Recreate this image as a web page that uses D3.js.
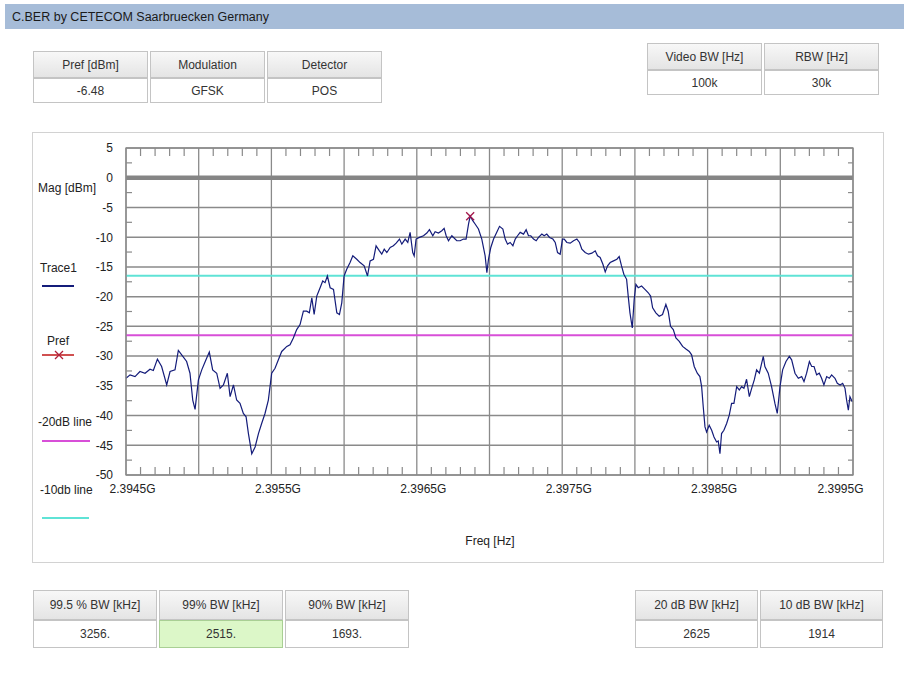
<!DOCTYPE html>
<html><head><meta charset="utf-8">
<script src="https://cdn.jsdelivr.net/npm/d3@7"></script>
<style>
body{margin:0;background:#fff;}
svg text{font-family:"Liberation Sans",Arial,sans-serif;}
</style></head><body>
<svg id="c" width="904" height="674"></svg>
<script>
// ---------------- data ----------------
const titleText = "C.BER by CETECOM Saarbruecken Germany";
const topLeftHeaders = ["Pref [dBm]", "Modulation", "Detector"];
const topLeftValues = ["-6.48", "GFSK", "POS"];
const topRightHeaders = ["Video BW [Hz]", "RBW [Hz]"];
const topRightValues = ["100k", "30k"];
const bwLeftHeaders = ["99.5 % BW [kHz]", "99% BW [kHz]", "90% BW [kHz]"];
const bwLeftValues = ["3256.", "2515.", "1693."];
const bwRightHeaders = ["20 dB BW [kHz]", "10 dB BW [kHz]"];
const bwRightValues = ["2625", "1914"];
const prefDbm = -6.48;
const prefFreqMHz = 2396.867;
const line20dB = -26.48;
const line10dB = -16.48;
const yTickValues = [5, 0, -5, -10, -15, -20, -25, -30, -35, -40, -45, -50];
const xTickValuesMHz = [2394.5, 2395.5, 2396.5, 2397.5, 2398.5, 2399.5];
const xTickLabels = ["2.3945G", "2.3955G", "2.3965G", "2.3975G", "2.3985G", "2.3995G"];
const yAxisTitle = "Mag [dBm]";
const xAxisTitle = "Freq [Hz]";
const legendLabels = ["Trace1", "Pref", "-20dB line", "-10db line"];

const traceFreqMHz = [
2394.500,2394.528,2394.562,2394.596,2394.631,2394.665,2394.688,2394.716,2394.745,2394.780,
2394.803,2394.837,2394.860,2394.883,2394.917,2394.940,2394.959,2394.975,2394.998,2395.021,
2395.050,2395.073,2395.096,2395.124,2395.147,2395.170,2395.197,2395.216,2395.239,2395.261,
2395.284,2395.307,2395.326,2395.342,2395.365,2395.388,2395.411,2395.433,2395.456,2395.479,
2395.502,2395.525,2395.548,2395.571,2395.606,2395.628,2395.651,2395.674,2395.697,2395.720,
2395.743,2395.761,2395.778,2395.794,2395.812,2395.835,2395.853,2395.869,2395.885,2395.904,
2395.927,2395.950,2395.968,2395.984,2396.000,2396.018,2396.041,2396.060,2396.087,2396.110,
2396.138,2396.161,2396.179,2396.202,2396.220,
2396.243,2396.259,2396.276,2396.294,2396.317,2396.339,2396.358,2396.381,2396.397,2396.420,
2396.438,2396.454,2396.472,2396.482,2396.495,2396.518,2396.546,2396.569,2396.587,2396.610,
2396.626,2396.649,2396.672,2396.688,2396.702,2396.718,2396.741,2396.775,2396.798,2396.821,
2396.839,2396.856,2396.867,2396.885,2396.901,2396.924,2396.947,2396.970,2396.982,2396.993,
2397.009,2397.028,2397.050,2397.069,2397.092,2397.108,2397.124,2397.142,2397.161,2397.177,
2397.193,2397.211,2397.234,2397.252,2397.268,2397.284,2397.303,2397.321,2397.337,2397.360,
2397.376,2397.394,2397.413,2397.436,2397.452,2397.468,2397.486,2397.502,2397.514,2397.532,
2397.555,2397.578,2397.601,2397.619,2397.635,2397.658,2397.681,2397.704,2397.727,2397.743,
2397.761,2397.780,2397.796,2397.812,2397.830,2397.853,2397.876,
2397.892,2397.908,2397.924,2397.943,2397.954,2397.966,2397.982,2397.995,2398.007,2398.023,
2398.046,2398.069,2398.092,2398.108,2398.122,2398.144,2398.167,2398.190,2398.213,2398.229,
2398.245,2398.264,2398.282,2398.305,2398.328,2398.351,2398.374,2398.390,2398.408,2398.429,
2398.447,2398.459,2398.470,2398.482,2398.493,2398.511,2398.528,2398.544,2398.562,2398.573,
2398.585,2398.596,2398.612,2398.631,2398.649,2398.665,2398.681,2398.700,2398.718,2398.734,
2398.750,2398.768,2398.787,2398.803,2398.821,2398.837,2398.856,2398.872,2398.883,2398.894,
2398.917,2398.940,2398.963,2398.979,2398.998,2399.016,2399.039,2399.062,2399.078,2399.101,
2399.124,2399.147,2399.163,2399.181,2399.200,2399.216,2399.232,2399.250,2399.268,2399.284,
2399.300,2399.319,2399.337,2399.353,2399.376,2399.392,2399.411,2399.429,2399.445,2399.456,
2399.468,2399.479,2399.495
];
const traceMagDbm = [
-33.73,-33.16,-33.45,-32.60,-32.88,-32.21,-32.43,-30.51,-31.75,-34.86,
-32.60,-32.32,-29.05,-29.78,-30.91,-32.88,-37.39,-38.97,-34.01,-32.32,
-30.63,-29.33,-32.32,-32.88,-35.42,-34.86,-32.88,-36.83,-34.86,-37.39,
-37.96,-39.65,-40.21,-43.03,-46.42,-45.29,-43.03,-41.34,-39.65,-37.39,
-32.88,-32.04,-30.63,-29.22,-28.37,-28.09,-26.96,-25.55,-24.70,-22.45,
-22.45,-22.73,-20.19,-23.01,-19.91,-18.50,-17.37,-17.65,-16.53,-18.50,
-18.78,-22.73,-23.01,-21.04,-16.53,-15.40,-14.27,-13.14,-13.71,-14.27,
-14.83,-16.53,-13.99,-13.71,-11.45,
-12.30,-12.86,-12.01,-12.58,-11.73,-11.45,-11.00,-10.32,-11.17,-10.32,
-10.89,-9.19,-12.58,-13.14,-10.32,-10.04,-9.76,-9.31,-8.74,-9.76,
-9.08,-9.31,-8.91,-8.52,-9.76,-10.60,-9.76,-10.60,-10.60,-10.32,
-10.32,-7.78,-6.48,-7.22,-7.78,-8.63,-10.32,-13.14,-15.96,-13.71,
-11.73,-10.32,-9.19,-8.18,-8.63,-10.32,-11.17,-10.89,-11.45,-10.32,
-9.76,-9.19,-9.48,-8.74,-9.76,-9.76,-10.32,-10.60,-10.04,-9.48,
-9.76,-9.48,-10.04,-10.32,-10.89,-12.58,-12.86,-10.32,-10.32,-10.89,
-11.00,-10.60,-10.32,-10.89,-12.01,-12.58,-12.86,-12.69,-12.30,-13.14,
-13.42,-14.55,-15.85,-14.83,-14.27,-13.99,-13.71,
-13.25,-14.83,-16.24,-17.09,-19.91,-22.73,-25.27,-20.47,-17.94,-18.50,
-18.22,-18.78,-19.35,-19.91,-21.88,-22.73,-23.29,-23.01,-21.32,-22.45,
-24.99,-25.55,-26.96,-27.52,-28.37,-28.82,-29.22,-29.78,-31.75,-32.88,
-33.45,-35.14,-38.52,-41.91,-42.75,-41.62,-42.47,-43.60,-44.44,-44.28,
-46.42,-43.03,-42.47,-41.34,-39.93,-37.96,-37.96,-35.14,-35.70,-35.14,
-35.42,-33.90,-36.83,-35.42,-34.01,-32.32,-32.88,-31.19,-30.06,-31.75,
-32.88,-35.14,-37.96,-39.65,-35.14,-32.32,-30.91,-30.06,-30.63,-32.88,
-33.73,-33.45,-34.29,-32.88,-30.91,-31.75,-31.75,-33.16,-32.88,-33.73,
-34.86,-33.45,-33.73,-33.16,-33.73,-34.57,-34.86,-34.57,-35.42,-37.39,
-39.09,-36.83,-37.68
];

// ---------------- drawing ----------------
const svg = d3.select("#c");
const FONT = "12px";
const defs = svg.append("defs");
const grad = defs.append("linearGradient").attr("id","hdr").attr("x1",0).attr("x2",0).attr("y1",0).attr("y2",1);
grad.append("stop").attr("offset","0%").attr("stop-color","#f8f8f8");
grad.append("stop").attr("offset","100%").attr("stop-color","#e4e4e4");

// title bar
svg.append("rect").attr("x",5).attr("y",4).attr("width",899).attr("height",25).attr("fill","#a6bcd8");
svg.append("text").attr("x",12).attr("y",21).attr("font-size","12.5px").attr("fill","#1a1a1a").text(titleText);

function drawTable(x0, y0, colW, hH, vH, headers, values, highlight) {
  const g = svg.append("g");
  headers.forEach((h, i) => {
    const x = x0 + i * colW;
    g.append("rect").attr("x", x + 1.5).attr("y", y0 + 0.5).attr("width", colW - 3).attr("height", hH - 1)
      .attr("fill", "url(#hdr)").attr("stroke", "#c4c4c4");
    const hl = (i === highlight);
    g.append("rect").attr("x", x + 1.5).attr("y", y0 + hH + 0.5).attr("width", colW - 3).attr("height", vH - 1)
      .attr("fill", hl ? "#dcf7c8" : "#ffffff").attr("stroke", hl ? "#a9cf94" : "#c4c4c4");
    g.append("text").attr("x", x + colW / 2).attr("y", y0 + hH / 2).attr("dy", "0.35em")
      .attr("text-anchor", "middle").attr("font-size", FONT).attr("fill", "#333").text(h);
    g.append("text").attr("x", x + colW / 2).attr("y", y0 + hH + vH / 2).attr("dy", "0.35em")
      .attr("text-anchor", "middle").attr("font-size", FONT).attr("fill", "#333").text(values[i]);
  });
}
drawTable(32, 51, 117, 27, 25, topLeftHeaders, topLeftValues, -1);
drawTable(646, 43, 117, 27, 25, topRightHeaders, topRightValues, -1);
drawTable(32, 590, 126, 30, 28, bwLeftHeaders, bwLeftValues, 1);
drawTable(634, 590, 125, 30, 28, bwRightHeaders, bwRightValues, -1);

// chart panel
svg.append("rect").attr("x",32.5).attr("y",132.5).attr("width",851).attr("height",430)
  .attr("fill","#fff").attr("stroke","#d2d2d2");

const L = 126, R = 853, T = 148, B = 475;
const x = d3.scaleLinear().domain([2.3945e9, 2.3995e9]).range([L, R]);
const y = d3.scaleLinear().domain([5, -50]).range([T, B]);
const gridColor = "#8a8a8a";
const plot = svg.append("g");

// vertical grid every 0.5 MHz
const vGrid = d3.range(0, 11).map(i => 2.3945e9 + i * 0.5e6);
plot.selectAll("line.vg").data(vGrid).join("line")
  .attr("x1", d => x(d)).attr("x2", d => x(d)).attr("y1", T).attr("y2", B)
  .attr("stroke", gridColor).attr("stroke-width", 1.3);
// horizontal grid every 5 dB
plot.selectAll("line.hg").data(yTickValues).join("line")
  .attr("x1", L).attr("x2", R).attr("y1", d => y(d)).attr("y2", d => y(d))
  .attr("stroke-width", d => d === 0 ? 4.5 : 1.5)
  .attr("stroke", d => d === 0 ? "#858585" : gridColor);

// minor ticks top & bottom (0.1 MHz)
const minorX = d3.range(0, 51).map(i => 2.3945e9 + i * 0.1e6).filter((d, i) => i % 5 !== 0);
plot.selectAll("line.tt").data(minorX).join("line")
  .attr("x1", d => x(d)).attr("x2", d => x(d)).attr("y1", T).attr("y2", T + 8)
  .attr("stroke", gridColor).attr("stroke-width", 1.2);
plot.selectAll("line.bt").data(minorX).join("line")
  .attr("x1", d => x(d)).attr("x2", d => x(d)).attr("y1", B).attr("y2", B - 8)
  .attr("stroke", gridColor).attr("stroke-width", 1.2);
// minor ticks left & right (2.5 dB)
const minorY = d3.range(0, 11).map(i => 2.5 - i * 5);
plot.selectAll("line.lt").data(minorY).join("line")
  .attr("x1", L).attr("x2", L + 6).attr("y1", d => y(d)).attr("y2", d => y(d))
  .attr("stroke", gridColor).attr("stroke-width", 1.2);
plot.selectAll("line.rt").data(minorY).join("line")
  .attr("x1", R).attr("x2", R - 5).attr("y1", d => y(d)).attr("y2", d => y(d))
  .attr("stroke", gridColor).attr("stroke-width", 1.2);

// reference lines
plot.append("line").attr("x1", L).attr("x2", R).attr("y1", y(line10dB)).attr("y2", y(line10dB))
  .attr("stroke", "#5fe3d6").attr("stroke-width", 2);
plot.append("line").attr("x1", L).attr("x2", R).attr("y1", y(line20dB)).attr("y2", y(line20dB))
  .attr("stroke", "#d84fd8").attr("stroke-width", 2);

// trace
const traceData = traceFreqMHz.map((f, i) => ({ f: f * 1e6, m: traceMagDbm[i] }));
plot.append("path").datum(traceData)
  .attr("d", d3.line().x(d => x(d.f)).y(d => y(d.m)))
  .attr("fill", "none").attr("stroke", "#141c7a").attr("stroke-width", 1.2);

// Pref marker
function xMark(g, cx, cy, s, color) {
  g.append("path").attr("d", `M${cx - s},${cy - s}L${cx + s},${cy + s}M${cx - s},${cy + s}L${cx + s},${cy - s}`)
    .attr("stroke", color).attr("stroke-width", 1.3).attr("fill", "none");
}
xMark(plot, x(prefFreqMHz * 1e6), y(prefDbm), 4, "#a3164a");

// border
plot.append("rect").attr("x", L).attr("y", T).attr("width", R - L).attr("height", B - T)
  .attr("fill", "none").attr("stroke", gridColor).attr("stroke-width", 1.3);

// axes labels via d3 axes
const yAxis = svg.append("g").attr("transform", `translate(${L},0)`)
  .call(d3.axisLeft(y).tickValues(yTickValues).tickSize(0).tickPadding(13).tickFormat(d => d));
yAxis.select(".domain").remove();
yAxis.selectAll("text").attr("font-size", FONT).attr("fill", "#222").attr("font-family", "Liberation Sans, Arial, sans-serif");

const xAxis = svg.append("g").attr("transform", `translate(0,${B})`)
  .call(d3.axisBottom(x).tickValues(xTickValuesMHz.map(v => v * 1e6)).tickSize(0).tickPadding(9)
    .tickFormat((d, i) => xTickLabels[i]));
xAxis.select(".domain").remove();
xAxis.selectAll("text").attr("font-size", FONT).attr("fill", "#222")
  .attr("dx", (d, i) => i === xTickLabels.length - 1 ? -13 : 6)
  .attr("font-family", "Liberation Sans, Arial, sans-serif");

svg.append("text").attr("x", 490).attr("y", 541).attr("dy", "0.35em").attr("text-anchor", "middle")
  .attr("font-size", FONT).attr("fill", "#222").text(xAxisTitle);

// legend
const lg = svg.append("g").attr("font-size", FONT).attr("fill", "#222");
lg.append("text").attr("x", 38).attr("y", 188).attr("dy", "0.35em").text(yAxisTitle);
const legendSpec = [
  { ty: 268, tx: 40, ly: 286, lx2: 74, color: "#141c7a" },
  { ty: 341, tx: 47, ly: 355, lx2: 74, color: "#d05050", marker: true },
  { ty: 422, tx: 38, ly: 441, lx2: 90, color: "#d84fd8" },
  { ty: 490, tx: 40, ly: 518, lx2: 89, color: "#5fe3d6" }
];
legendLabels.forEach((lab, i) => {
  const s = legendSpec[i];
  lg.append("text").attr("x", s.tx).attr("y", s.ty).attr("dy", "0.35em").text(lab);
  lg.append("line").attr("x1", 42).attr("x2", s.lx2).attr("y1", s.ly).attr("y2", s.ly)
    .attr("stroke", s.color).attr("stroke-width", 2);
  if (s.marker) xMark(lg, 59, s.ly, 4, "#b0203a");
});
</script>
</body></html>
